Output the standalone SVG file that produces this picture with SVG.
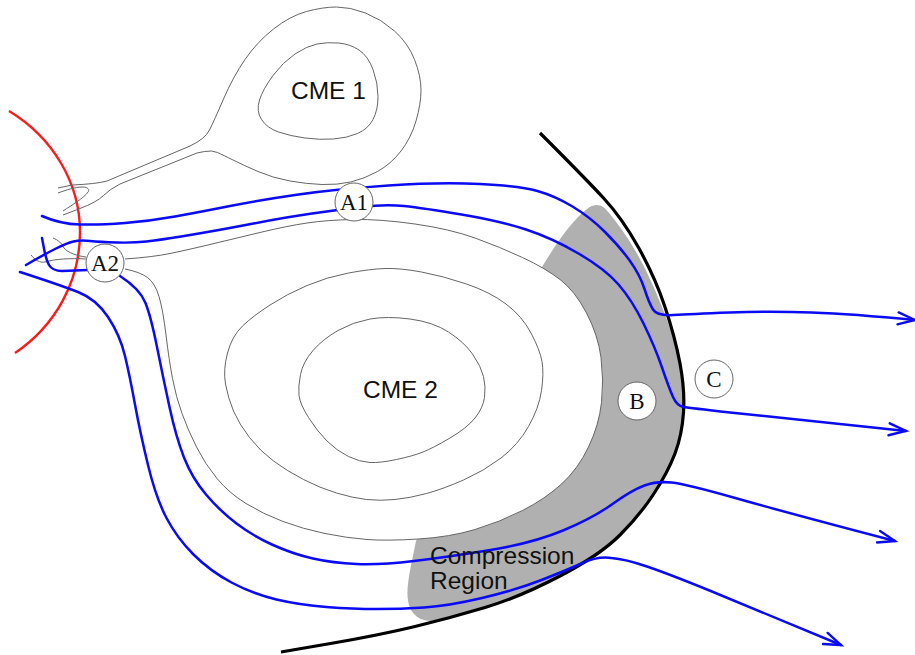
<svg xmlns="http://www.w3.org/2000/svg" width="915" height="655" viewBox="0 0 915 655">
<style>
.c{fill:none;stroke:#666;stroke-width:1}
.w{fill:#fff;stroke:#666;stroke-width:1}
.b{fill:none;stroke:#0a0af5;stroke-width:2.5;stroke-linecap:round;stroke-linejoin:round}
.n{fill:#fff;stroke:#666;stroke-width:1}
.s{font-family:"Liberation Serif",serif;font-size:23px;fill:#111;text-anchor:middle}
.h{font-family:"Liberation Sans",sans-serif;font-size:24.5px;fill:#111}
</style>
<defs>
<marker id="arrow" markerUnits="userSpaceOnUse" markerWidth="24" markerHeight="20" refX="19" refY="10" orient="auto" viewBox="0 0 24 20">
<path d="M2 4 L19 10 L2 16" fill="none" stroke="#0a0af5" stroke-width="2.4" stroke-linecap="round"/>
</marker>
</defs>
<path id="compression-region" fill="#b0b0b0" d="M542 267 Q560 237 573.5 222 Q587 207 593.5 205.5 Q600 204 604.5 208 Q609 212 622 230 Q640 255 655 290 Q675 337 680 363.5 Q685 390 683.5 412.5 Q682 435 675 453.5 Q668 472 654 493.5 Q640 515 620 535 Q600 555 560 576 Q520 597 485 607.5 Q450 618 431 621 Q420 621 414 614 Q409 609 408 600 Q406 590 411 565.5 L416 541 L500 400 Z"/>
<g id="red-arc"><path d="M9 111 C52 137 80 182 80 232 C80 282 55 326 15 353" fill="none" stroke="#f81c1c" stroke-width="2.4"/></g>
<g id="shock-front"><path d="M540 133 Q585 178 603.5 198 Q622 218 638.5 247.5 Q655 277 665 307 Q675 337 680 363.5 Q685 390 683.5 412.5 Q682 435 675 453.5 Q668 472 654 493.5 Q640 515 620 535 Q600 555 560 576 Q520 597 485 607.5 Q450 618 415 626.5 Q380 635 330.5 643.5 L281 652" fill="none" stroke="#000" stroke-width="3.2"/></g>
<g id="cme1">
<path class="c" d="M58 188 L72 185 Q96 184 107 181 L190 146 Q205 139 209.5 130 Q214 121 223.5 99 Q233 77 245 59.5 Q257 42 273.5 29 Q290 16 306.5 11.5 Q323 7 336.5 7 Q350 7 365.5 13 Q381 19 394.5 31 Q408 43 414.5 59.5 Q421 76 421 90 Q421 104 416 121 Q411 138 401 151 Q391 164 377.5 171.5 Q364 179 350.5 182 Q337 185 322 184.5 Q307 184 290 181 Q273 178 258 171.5 Q243 165 233 160 Q223 155 217.5 152.5 Q212 150 204.5 151.5 L197 153 L120 184 Q110 189 103.5 195.5 Q97 202 80 208.5 L63 215"/>
<path class="c" d="M58 193 C66 190 75 187 83 187 C88 187 90 190 88 192 C84 198 72 205 63 211"/>
<path class="c" d="M261.5 119.5 Q256 111 259.5 100 Q263 89 273 75.5 Q283 62 295 54 Q307 46 317 44 Q327 42 338.5 43 Q350 44 359 50 Q368 56 373 69.5 Q378 83 378 96.5 Q378 110 373 119.5 Q368 129 357.5 133.5 Q347 138 333.5 139 Q320 140 305 138 Q290 136 278.5 132 Q267 128 261.5 119.5 Z"/>
</g>
<g id="cme2">
<path class="w" d="M125 259 Q153 257 170 253.5 Q187 250 212 244 Q237 238 262 232 Q287 226 307 223 Q327 220 353.5 219.5 Q380 219 415 224 Q450 229 475 238 Q500 247 522.5 257.5 Q545 268 560 279.5 Q575 291 586.5 313 Q598 335 601 357.5 Q604 380 601.5 402.5 Q599 425 588.5 447 Q578 469 561.5 484 Q545 499 522.5 510.5 Q500 522 475 529.5 Q450 537 418.5 539 Q387 541 367 539.5 Q347 538 325 533.5 Q303 529 283 521.5 Q263 514 246 503.5 Q229 493 217 478.5 Q205 464 196.5 447 Q188 430 182 413.5 Q176 397 172.5 378.5 Q169 360 166 335 Q163 310 159 296.5 Q155 283 147.5 277.5 Q140 272 125 269"/>
<path class="c" d="M53 238 C58 240 62 243 64 248 C68 253 78 256 86 257"/>
<path class="c" d="M31 255 C35 260 40 263 45 262 C55 259 70 258 86 259"/>
<path class="c" d="M225.5 384 Q223 370 227.5 353 Q232 336 242.5 326 Q253 316 270 305 Q287 294 307 285.5 Q327 277 348.5 273 Q370 269 385 268.5 Q400 268 421.5 272 Q443 276 466.5 284 Q490 292 506 304 Q522 316 531 333 Q540 350 542 361.5 Q544 373 541.5 390.5 Q539 408 528.5 426.5 Q518 445 501 458 Q484 471 463.5 480 Q443 489 426.5 493.5 Q410 498 395 499.5 Q380 501 366.5 499.5 Q353 498 336.5 493 Q320 488 303.5 479.5 Q287 471 273.5 461 Q260 451 249.5 437.5 Q239 424 233.5 411 Q228 398 225.5 384 Z"/>
<path class="c" d="M299 395.5 Q298 387 300.5 374.5 Q303 362 313 350.5 Q323 339 338 330.5 Q353 322 370 319 Q387 316 410 319 Q433 322 448.5 332 Q464 342 472.5 354 Q481 366 483.5 376.5 Q486 387 484.5 397.5 Q483 408 475 418 Q467 428 450 438 Q433 448 423 452 Q413 456 396.5 459.5 Q380 463 370 462.5 Q360 462 348.5 456.5 Q337 451 327 441 Q317 431 308.5 417.5 Q300 404 299 395.5 Z"/>
</g>
<g id="connectors">
<path class="b" marker-end="url(#arrow)" d="M42 216 Q60 224 80 224.5 Q100 225 125 223 Q150 221 175 216.5 Q200 212 230 206 Q260 200 298.5 194.5 Q337 189 388.5 185.5 Q440 182 480 184 Q520 186 537.5 191 Q555 196 572.5 206.5 Q590 217 605 232 Q620 247 630 261 Q640 275 644.5 289 Q649 303 653 309.5 Q657 316 673.5 315 Q690 314 730 312.5 Q770 311 811.5 312.5 Q853 314 915 320"/>
<path class="b" d="M42 238 C44 248 45 258 49 265 C52 270 56 271 62 271 L88 270"/>
<path class="b" marker-end="url(#arrow)" d="M26 265 Q43 255 55 249 Q67 243 73.5 241.5 Q80 240 90 241 Q100 242 116.5 242.5 Q133 243 146.5 241.5 Q160 240 190 235 Q220 230 253.5 223.5 Q287 217 312 213.5 Q337 210 361 207 Q385 204 404 206 Q423 208 461.5 214.5 Q500 221 526 229.5 Q552 238 578.5 253.5 Q605 269 618.5 284.5 Q632 300 643.5 323.5 Q655 347 662 367.5 Q669 388 673 397 Q677 406 683.5 407 Q690 408 730 412.5 Q770 417 906 431"/>
<path class="b" marker-end="url(#arrow)" d="M120 276 Q140 289 145.5 303 Q151 317 157 347 Q163 377 169.5 407 Q176 437 184 457.5 Q192 478 206 494.5 Q220 511 236.5 523.5 Q253 536 273 545 Q293 554 313 558.5 Q333 563 356.5 564 Q380 565 414 561 Q448 557 490.5 550 Q533 543 563 530.5 Q593 518 612.5 504 Q632 490 644.5 485.5 Q657 481 671.5 482.5 Q686 484 737 498.5 Q788 513 895 541"/>
<path class="b" marker-end="url(#arrow)" d="M20 272 Q60 285 78 292 Q96 299 108 317 Q120 335 125 356 Q130 377 135 404.5 Q140 432 148 465 Q156 498 166.5 518 Q177 538 193.5 554.5 Q210 571 231.5 582.5 Q253 594 276.5 599.5 Q300 605 326.5 607 Q353 609 376.5 609 Q400 609 424 607.5 Q448 606 482 598 Q516 590 541.5 580 Q567 570 582.5 563 Q598 556 611.5 558 Q625 559 647 566.5 Q669 574 709.5 590.5 Q750 607 841 645"/>
</g>
<g id="node-a1"><circle class="n" cx="354" cy="202" r="19"/><text class="s" x="354" y="210">A1</text></g>
<g id="node-a2"><circle class="n" cx="105" cy="263" r="19"/><text class="s" x="105" y="271">A2</text></g>
<g id="node-b"><circle class="n" cx="637" cy="401" r="19"/><text class="s" x="637" y="409">B</text></g>
<g id="node-c"><circle class="n" cx="714" cy="379" r="19"/><text class="s" x="714" y="387">C</text></g>
<text class="h" x="291" y="99">CME 1</text>
<text class="h" x="363" y="398">CME 2</text>
<text class="h" x="430" y="564">Compression</text>
<text class="h" x="430" y="589">Region</text>
</svg>
